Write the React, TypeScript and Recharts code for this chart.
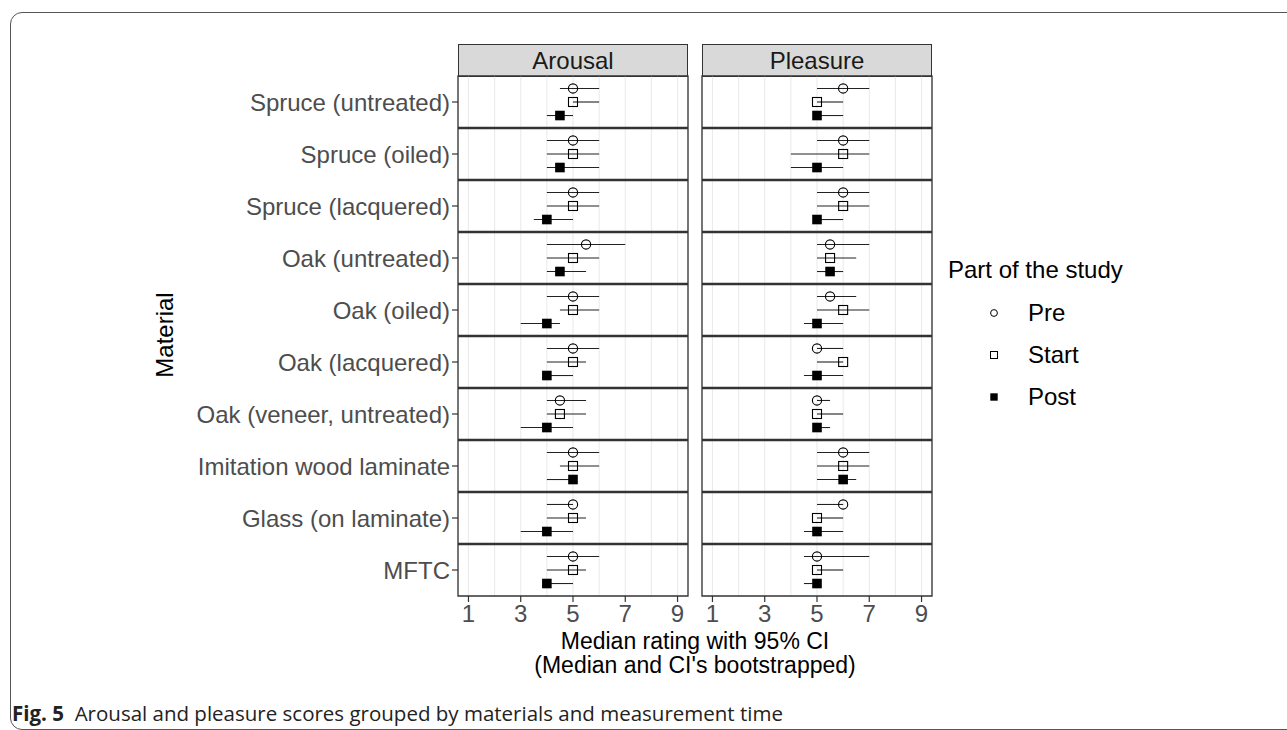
import React from "react";
import {
  ScatterChart,
  Scatter,
  XAxis,
  YAxis,
  CartesianGrid,
  ErrorBar,
  ReferenceLine,
  ReferenceArea,
} from "recharts";

const materials = [
  "Spruce (untreated)",
  "Spruce (oiled)",
  "Spruce (lacquered)",
  "Oak (untreated)",
  "Oak (oiled)",
  "Oak (lacquered)",
  "Oak (veneer, untreated)",
  "Imitation wood laminate",
  "Glass (on laminate)",
  "MFTC",
];

const xTicks = [1, 2, 3, 4, 5, 6, 7, 8, 9];

// [median, lower CI, upper CI] per material
type Est = [number, number, number];

const arousalPre: Est[] = [
  [5, 4.5, 6], [5, 4, 6], [5, 4, 6], [5.5, 4, 7], [5, 4, 6],
  [5, 4, 6], [4.5, 4, 5.5], [5, 4, 6], [5, 4, 5], [5, 4, 6],
];
const arousalStart: Est[] = [
  [5, 5, 6], [5, 4, 6], [5, 4, 6], [5, 4, 6], [5, 4.5, 6],
  [5, 4, 5.5], [4.5, 4, 5.5], [5, 4.5, 6], [5, 4, 5.5], [5, 4, 5.5],
];
const arousalPost: Est[] = [
  [4.5, 4, 5], [4.5, 4, 6], [4, 3.5, 5], [4.5, 4, 5.5], [4, 3, 4.5],
  [4, 4, 5], [4, 3, 5], [5, 4, 5], [4, 3, 5], [4, 4, 5],
];

const pleasurePre: Est[] = [
  [6, 5, 7], [6, 5, 7], [6, 5, 7], [5.5, 5, 7], [5.5, 5, 6.5],
  [5, 5, 6], [5, 5, 5.5], [6, 5, 7], [6, 5, 6], [5, 4.5, 7],
];
const pleasureStart: Est[] = [
  [5, 5, 6], [6, 4, 7], [6, 5, 7], [5.5, 5, 6.5], [6, 5, 7],
  [6, 5, 6], [5, 5, 6], [6, 5, 7], [5, 5, 6], [5, 5, 6],
];
const pleasurePost: Est[] = [
  [5, 5, 6], [5, 4, 6], [5, 5, 6], [5.5, 5, 6], [5, 4.5, 6],
  [5, 4.5, 6], [5, 5, 5.5], [6, 5, 6.5], [5, 4.5, 6], [5, 4.5, 5],
];

const FONT = "'Liberation Sans', Arial, sans-serif";
const rowTicks = materials.map((_, i) => i + 0.5);
const separators = materials.slice(1).map((_, i) => i + 1);

const toRows = (est: Est[], shift: number) =>
  est.map(([m, lo, hi], i) => ({ x: m, y: i + 0.5 + shift, err: [m - lo, hi - m] }));

const OpenCircle = (p: any) => (
  <circle cx={p.cx} cy={p.cy} r={4.6} fill="none" stroke="#000" strokeWidth={1.1} />
);
const OpenSquare = (p: any) => (
  <rect x={p.cx - 4.5} y={p.cy - 4.5} width={9} height={9} fill="none" stroke="#000" strokeWidth={1.1} />
);
const FilledSquare = (p: any) => (
  <rect x={p.cx - 4.8} y={p.cy - 4.8} width={9.6} height={9.6} fill="#000" />
);

const XTick = (props: any) => {
  const { x, y, payload } = props;
  if (payload.value % 2 === 0) return <g />;
  return (
    <g>
      <line x1={x} x2={x} y1={y} y2={y + 6} stroke="#333" strokeWidth={1.2} />
      <text x={x} y={y + 26} textAnchor="middle" fill="#4d4d4d" fontSize={24} fontFamily={FONT}>
        {payload.value}
      </text>
    </g>
  );
};

type PanelProps = {
  pre: Est[];
  start: Est[];
  post: Est[];
  showY: boolean;
  width: number;
  left: number;
  right: number;
};

const Panel = ({ pre, start, post, showY, width, left, right }: PanelProps) => (
  <ScatterChart width={width} height={570} margin={{ top: 10, right, bottom: 0, left }}>
    <CartesianGrid horizontal={false} stroke="#ebebeb" strokeWidth={1.1} />
    <XAxis
      type="number"
      dataKey="x"
      domain={[0.6, 9.4]}
      ticks={xTicks}
      interval={0}
      allowDataOverflow
      tick={<XTick />}
      tickLine={false}
      axisLine={false}
      tickSize={0}
      tickMargin={0}
      height={40}
    />
    <YAxis
      type="number"
      dataKey="y"
      domain={[0, 10]}
      reversed
      ticks={rowTicks}
      interval={0}
      allowDataOverflow
      hide={!showY}
      width={458}
      axisLine={false}
      tickSize={6}
      tickMargin={2}
      tickLine={{ stroke: "#333", strokeWidth: 1.2 }}
      tick={{ fill: "#4d4d4d", fontSize: 24, fontFamily: FONT }}
      tickFormatter={(v: number) => materials[Math.floor(v)]}
    />
    <ReferenceArea x1={0.6} x2={9.4} y1={0} y2={10} fill="none" stroke="#333" strokeWidth={1.3} />
    {separators.map((v) => (
      <ReferenceLine key={v} y={v} stroke="#333" strokeWidth={2.6} />
    ))}
    <Scatter data={toRows(pre, -0.26)} shape={OpenCircle} isAnimationActive={false}>
      <ErrorBar dataKey="err" direction="x" width={0} stroke="#222" strokeWidth={1.1} />
    </Scatter>
    <Scatter data={toRows(start, 0)} shape={OpenSquare} isAnimationActive={false}>
      <ErrorBar dataKey="err" direction="x" width={0} stroke="#222" strokeWidth={1.1} />
    </Scatter>
    <Scatter data={toRows(post, 0.26)} shape={FilledSquare} isAnimationActive={false}>
      <ErrorBar dataKey="err" direction="x" width={0} stroke="#222" strokeWidth={1.1} />
    </Scatter>
  </ScatterChart>
);

const stripStyle = (left: number): React.CSSProperties => ({
  position: "absolute",
  left,
  top: 44,
  width: 230,
  height: 33,
  boxSizing: "border-box",
  background: "#d9d9d9",
  border: "1.3px solid #333",
  textAlign: "center",
  lineHeight: "31px",
  fontSize: 24,
  color: "#1a1a1a",
});

const legendItems = [
  { label: "Pre", top: 313 },
  { label: "Start", top: 355 },
  { label: "Post", top: 397 },
];

const LegendSymbol = ({ i }: { i: number }) => (
  <svg width={14} height={14} style={{ position: "absolute", left: -7, top: -7 }}>
    {i === 0 && <circle cx={7} cy={7} r={3.4} fill="none" stroke="#000" strokeWidth={1} />}
    {i === 1 && <rect x={3.5} y={3.5} width={7} height={7} fill="none" stroke="#000" strokeWidth={1} />}
    {i === 2 && <rect x={3.3} y={3.3} width={7.4} height={7.4} fill="#000" />}
  </svg>
);

export default function App() {
  return (
    <div
      style={{
        position: "absolute",
        left: 0,
        top: 0,
        width: 1287,
        height: 730,
        overflow: "hidden",
        background: "#fff",
        fontFamily: FONT,
      }}
    >
      <div
        style={{
          position: "absolute",
          left: 10,
          top: 12,
          width: 1320,
          height: 718,
          border: "1px solid #555",
          borderRadius: 12,
          boxSizing: "border-box",
        }}
      />
      <div style={stripStyle(458)}>Arousal</div>
      <div style={stripStyle(702)}>Pleasure</div>
      <div style={{ position: "absolute", left: 0, top: 66 }}>
        <Panel pre={arousalPre} start={arousalStart} post={arousalPost} showY width={700} left={0} right={12} />
      </div>
      <div style={{ position: "absolute", left: 690, top: 66 }}>
        <Panel pre={pleasurePre} start={pleasureStart} post={pleasurePost} showY={false} width={250} left={12} right={8} />
      </div>
      <div
        style={{
          position: "absolute",
          left: 165,
          top: 335,
          transform: "translate(-50%, -50%) rotate(-90deg)",
          fontSize: 24,
          color: "#000",
          whiteSpace: "nowrap",
        }}
      >
        Material
      </div>
      <div
        style={{
          position: "absolute",
          left: 695,
          top: 629,
          transform: "translateX(-50%)",
          fontSize: 23,
          lineHeight: "24px",
          textAlign: "center",
          whiteSpace: "nowrap",
          color: "#000",
        }}
      >
        <div>Median rating with 95% CI</div>
        <div>(Median and CI's bootstrapped)</div>
      </div>
      <div
        style={{
          position: "absolute",
          left: 948,
          top: 256,
          fontSize: 24,
          whiteSpace: "nowrap",
          color: "#000",
        }}
      >
        Part of the study
      </div>
      {legendItems.map((it, i) => (
        <div key={it.label} style={{ position: "absolute", left: 994, top: it.top }}>
          <LegendSymbol i={i} />
          <span
            style={{
              position: "absolute",
              left: 34,
              top: -14,
              fontSize: 24,
              lineHeight: "28px",
              whiteSpace: "nowrap",
            }}
          >
            {it.label}
          </span>
        </div>
      ))}
      <div
        style={{
          position: "absolute",
          left: 12,
          top: 700,
          fontSize: 20.5,
          lineHeight: "26px",
          fontFamily: "'Open Sans', 'Noto Sans', sans-serif",
          whiteSpace: "nowrap",
          color: "#222",
        }}
      >
        <b>Fig. 5</b>&nbsp; Arousal and pleasure scores grouped by materials and measurement time
      </div>
    </div>
  );
}
